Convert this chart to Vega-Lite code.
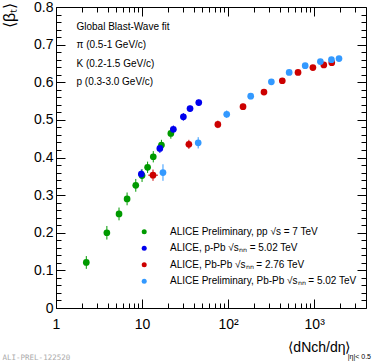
{
  "$schema": "https://vega.github.io/schema/vega-lite/v6.json",
  "width": 310,
  "height": 301,
  "autosize": {"type": "none"},
  "padding": {"left": 56, "top": 7, "right": 8, "bottom": 55},
  "background": "white",
  "title": {"text": "|η|< 0.5", "orient": "bottom", "anchor": "end", "frame": "group", "font": "Liberation Sans", "fontSize": 7, "fontWeight": "normal", "color": "#000", "offset": -8, "dx": 5},
  "config": {
    "view": {"stroke": "#000", "strokeWidth": 1},
    "font": "Liberation Sans",
    "axis": {"grid": false, "domain": false, "tickColor": "#000", "labelColor": "#000", "titleColor": "#000", "labelFont": "Liberation Sans", "titleFont": "Liberation Sans", "titleFontWeight": "normal", "labelOverlap": false, "labelFlush": false},
    "legend": {"orient": "none", "legendX": 83.2, "legendY": 219.7, "title": null, "symbolType": "circle", "symbolSize": 25,
      "symbolStrokeWidth": 0, "symbolOpacity": 1, "labelFontSize": 10, "labelFont": "Liberation Sans", "labelColor": "#000",
      "labelOffset": 20.8, "rowPadding": 6.5, "padding": 0, "labelLimit": 0}
  },
  "data": {"values": [
    {"sys": "ALICE Preliminary, pp √s = 7 TeV", "x": 2.25, "y": 0.121, "ylo": 0.104, "yhi": 0.138},
    {"sys": "ALICE Preliminary, pp √s = 7 TeV", "x": 3.9, "y": 0.200, "ylo": 0.182, "yhi": 0.218},
    {"sys": "ALICE Preliminary, pp √s = 7 TeV", "x": 5.4, "y": 0.250, "ylo": 0.233, "yhi": 0.267},
    {"sys": "ALICE Preliminary, pp √s = 7 TeV", "x": 6.7, "y": 0.290, "ylo": 0.273, "yhi": 0.307},
    {"sys": "ALICE Preliminary, pp √s = 7 TeV", "x": 8.45, "y": 0.326, "ylo": 0.309, "yhi": 0.343},
    {"sys": "ALICE Preliminary, pp √s = 7 TeV", "x": 10.0, "y": 0.352, "ylo": 0.335, "yhi": 0.369},
    {"sys": "ALICE Preliminary, pp √s = 7 TeV", "x": 11.6, "y": 0.374, "ylo": 0.359, "yhi": 0.389},
    {"sys": "ALICE Preliminary, pp √s = 7 TeV", "x": 13.5, "y": 0.402, "ylo": 0.387, "yhi": 0.417},
    {"sys": "ALICE Preliminary, pp √s = 7 TeV", "x": 16.8, "y": 0.433, "ylo": 0.419, "yhi": 0.447},
    {"sys": "ALICE Preliminary, pp √s = 7 TeV", "x": 21.6, "y": 0.464, "ylo": 0.450, "yhi": 0.478},
    {"sys": "ALICE, p-Pb √sₙₙ = 5.02 TeV", "x": 9.8, "y": 0.356, "ylo": 0.344, "yhi": 0.368},
    {"sys": "ALICE, p-Pb √sₙₙ = 5.02 TeV", "x": 16.1, "y": 0.424, "ylo": 0.412, "yhi": 0.436},
    {"sys": "ALICE, p-Pb √sₙₙ = 5.02 TeV", "x": 23.1, "y": 0.475, "ylo": 0.465, "yhi": 0.485},
    {"sys": "ALICE, p-Pb √sₙₙ = 5.02 TeV", "x": 30.2, "y": 0.508, "ylo": 0.498, "yhi": 0.518},
    {"sys": "ALICE, p-Pb √sₙₙ = 5.02 TeV", "x": 36.1, "y": 0.530, "ylo": 0.522, "yhi": 0.538},
    {"sys": "ALICE, p-Pb √sₙₙ = 5.02 TeV", "x": 45.6, "y": 0.546, "ylo": 0.538, "yhi": 0.554},
    {"sys": "ALICE, Pb-Pb √sₙₙ = 2.76 TeV", "x": 13.4, "y": 0.353, "ylo": 0.338, "yhi": 0.368, "xlo": 11.8, "xhi": 15.3},
    {"sys": "ALICE, Pb-Pb √sₙₙ = 2.76 TeV", "x": 35.0, "y": 0.435, "ylo": 0.423, "yhi": 0.447},
    {"sys": "ALICE, Pb-Pb √sₙₙ = 2.76 TeV", "x": 76.0, "y": 0.488, "ylo": 0.478, "yhi": 0.498},
    {"sys": "ALICE, Pb-Pb √sₙₙ = 2.76 TeV", "x": 149, "y": 0.535, "ylo": 0.527, "yhi": 0.543},
    {"sys": "ALICE, Pb-Pb √sₙₙ = 2.76 TeV", "x": 261, "y": 0.574, "ylo": 0.567, "yhi": 0.581},
    {"sys": "ALICE, Pb-Pb √sₙₙ = 2.76 TeV", "x": 426, "y": 0.604, "ylo": 0.598, "yhi": 0.610},
    {"sys": "ALICE, Pb-Pb √sₙₙ = 2.76 TeV", "x": 649, "y": 0.626, "ylo": 0.621, "yhi": 0.631},
    {"sys": "ALICE, Pb-Pb √sₙₙ = 2.76 TeV", "x": 966, "y": 0.639, "ylo": 0.634, "yhi": 0.644},
    {"sys": "ALICE, Pb-Pb √sₙₙ = 2.76 TeV", "x": 1294, "y": 0.646, "ylo": 0.642, "yhi": 0.650},
    {"sys": "ALICE, Pb-Pb √sₙₙ = 2.76 TeV", "x": 1601, "y": 0.652, "ylo": 0.648, "yhi": 0.656},
    {"sys": "ALICE Preliminary, Pb-Pb √sₙₙ = 5.02 TeV", "x": 17.5, "y": 0.360, "ylo": 0.338, "yhi": 0.382},
    {"sys": "ALICE Preliminary, Pb-Pb √sₙₙ = 5.02 TeV", "x": 44.9, "y": 0.439, "ylo": 0.424, "yhi": 0.454},
    {"sys": "ALICE Preliminary, Pb-Pb √sₙₙ = 5.02 TeV", "x": 96.3, "y": 0.515, "ylo": 0.505, "yhi": 0.525},
    {"sys": "ALICE Preliminary, Pb-Pb √sₙₙ = 5.02 TeV", "x": 183, "y": 0.563, "ylo": 0.555, "yhi": 0.571},
    {"sys": "ALICE Preliminary, Pb-Pb √sₙₙ = 5.02 TeV", "x": 318, "y": 0.601, "ylo": 0.594, "yhi": 0.608},
    {"sys": "ALICE Preliminary, Pb-Pb √sₙₙ = 5.02 TeV", "x": 512, "y": 0.626, "ylo": 0.620, "yhi": 0.632},
    {"sys": "ALICE Preliminary, Pb-Pb √sₙₙ = 5.02 TeV", "x": 786, "y": 0.644, "ylo": 0.639, "yhi": 0.649},
    {"sys": "ALICE Preliminary, Pb-Pb √sₙₙ = 5.02 TeV", "x": 1180, "y": 0.655, "ylo": 0.650, "yhi": 0.660},
    {"sys": "ALICE Preliminary, Pb-Pb √sₙₙ = 5.02 TeV", "x": 1587, "y": 0.660, "ylo": 0.656, "yhi": 0.664},
    {"sys": "ALICE Preliminary, Pb-Pb √sₙₙ = 5.02 TeV", "x": 1943, "y": 0.663, "ylo": 0.659, "yhi": 0.667}
  ]},
  "layer": [
    {
      "mark": {"type": "rule", "strokeWidth": 1},
      "encoding": {
        "x": {"field": "x", "type": "quantitative", "scale": {"type": "log", "domain": [1, 4000]},
          "axis": {"orient": "top", "labels": false,
            "values": [1,2,3,4,5,6,7,8,9,10,20,30,40,50,60,70,80,90,100,200,300,400,500,600,700,800,900,1000,2000,3000],
            "tickSize": {"condition": {"test": "datum.value==1||datum.value==10||datum.value==100||datum.value==1000", "value": -9}, "value": -5},
            "title": ["Global Blast-Wave fit", "π (0.5-1 GeV/c)", "K (0.2-1.5 GeV/c)", "p (0.3-3.0 GeV/c)"],
            "titleX": 20, "titleY": 22.6, "titleAlign": "left", "titleBaseline": "alphabetic", "titleAngle": 0,
            "titleFontSize": 10, "titleLineHeight": 18.3}},
        "y": {"field": "ylo", "type": "quantitative", "scale": {"domain": [0, 0.8]},
          "axis": {"orient": "right", "labels": false,
            "values": [0,0.02,0.04,0.06,0.08,0.1,0.12,0.14,0.16,0.18,0.2,0.22,0.24,0.26,0.28,0.3,0.32,0.34,0.36,0.38,0.4,0.42,0.44,0.46,0.48,0.5,0.52,0.54,0.56,0.58,0.6,0.62,0.64,0.66,0.68,0.7,0.72,0.74,0.76,0.78,0.8],
            "tickSize": {"condition": {"test": "abs(datum.value*10 - round(datum.value*10)) < 0.001", "value": -9}, "value": -5},
            "title": "ALI-PREL-122520", "titleX": -364, "titleY": 350, "titleAngle": 0, "titleAlign": "left", "titleBaseline": "middle",
            "titleFont": "DejaVu Sans Mono", "titleFontSize": 7.5, "titleColor": "#aaaaaa"}},
        "y2": {"field": "yhi"},
        "color": {"field": "sys", "type": "nominal",
          "scale": {"domain": ["ALICE Preliminary, pp √s = 7 TeV", "ALICE, p-Pb √sₙₙ = 5.02 TeV", "ALICE, Pb-Pb √sₙₙ = 2.76 TeV", "ALICE Preliminary, Pb-Pb √sₙₙ = 5.02 TeV"],
            "range": ["#009a00", "#0000ee", "#cc0000", "#3399ff"]}}
      }
    },
    {
      "transform": [{"filter": "isValid(datum.xlo)"}],
      "mark": {"type": "rule", "strokeWidth": 1},
      "encoding": {
        "x": {"field": "xlo", "type": "quantitative", "scale": {"type": "log", "domain": [1, 4000]}, "axis": null},
        "x2": {"field": "xhi"},
        "y": {"field": "y", "type": "quantitative", "scale": {"domain": [0, 0.8]}, "axis": null},
        "color": {"field": "sys", "type": "nominal"}
      }
    },
    {
      "mark": {"type": "circle", "size": 45, "opacity": 1},
      "encoding": {
        "x": {"field": "x", "type": "quantitative", "scale": {"type": "log", "domain": [1, 4000]},
          "axis": {"orient": "bottom",
            "values": [1,2,3,4,5,6,7,8,9,10,20,30,40,50,60,70,80,90,100,200,300,400,500,600,700,800,900,1000,2000,3000],
            "labelExpr": "datum.value==1?'1':datum.value==10?'10':datum.value==100?'10²':datum.value==1000?'10³':''",
            "tickSize": {"condition": {"test": "datum.value==1||datum.value==10||datum.value==100||datum.value==1000", "value": -9}, "value": -5},
            "labelPadding": 18, "labelFontSize": 14,
            "title": "⟨dNch/dη⟩", "titleX": 294, "titleY": 43, "titleAlign": "right", "titleBaseline": "alphabetic", "titleFontSize": 14}},
        "y": {"field": "y", "type": "quantitative", "scale": {"domain": [0, 0.8]},
          "axis": {"orient": "left",
            "values": [0,0.02,0.04,0.06,0.08,0.1,0.12,0.14,0.16,0.18,0.2,0.22,0.24,0.26,0.28,0.3,0.32,0.34,0.36,0.38,0.4,0.42,0.44,0.46,0.48,0.5,0.52,0.54,0.56,0.58,0.6,0.62,0.64,0.66,0.68,0.7,0.72,0.74,0.76,0.78,0.8],
            "labelExpr": "abs(datum.value*10 - round(datum.value*10)) < 0.001 ? (datum.value == 0 ? '0' : format(datum.value, '.1f')) : ''",
            "tickSize": {"condition": {"test": "abs(datum.value*10 - round(datum.value*10)) < 0.001", "value": -9}, "value": -5},
            "labelPadding": 12, "labelFontSize": 14,
            "title": "⟨βₜ⟩", "titleX": -47, "titleY": 8, "titleAngle": -90, "titleAlign": "center", "titleBaseline": "middle", "titleFontSize": 16}},
        "color": {"field": "sys", "type": "nominal",
          "scale": {"domain": ["ALICE Preliminary, pp √s = 7 TeV", "ALICE, p-Pb √sₙₙ = 5.02 TeV", "ALICE, Pb-Pb √sₙₙ = 2.76 TeV", "ALICE Preliminary, Pb-Pb √sₙₙ = 5.02 TeV"],
            "range": ["#009a00", "#0000ee", "#cc0000", "#3399ff"]}}
      }
    }
  ],
  "resolve": {"axis": {"x": "independent", "y": "independent"}}
}
